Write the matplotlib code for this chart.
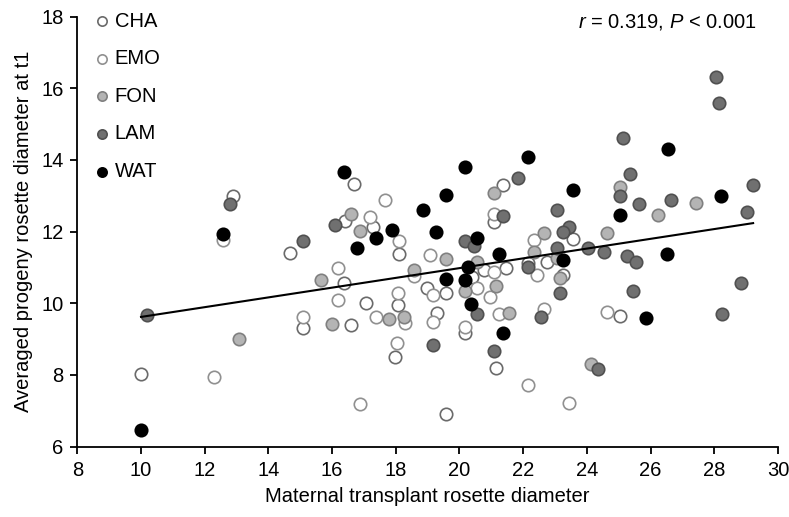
import numpy as np
import matplotlib
matplotlib.use("Agg")
import matplotlib.pyplot as plt

plt.rcParams['font.family'] = ['Liberation Sans', 'DejaVu Sans']
plt.rcParams['mathtext.fontset'] = 'custom'
plt.rcParams['mathtext.it'] = 'Liberation Sans:italic'
plt.rcParams['mathtext.rm'] = 'Liberation Sans'
FS = 14.5

# ---- data ----
wat_x = [10.0, 12.58, 16.38, 17.37, 17.87, 16.77, 20.17, 19.58, 18.86, 19.27, 20.56, 21.25, 20.26,
         19.58, 20.17, 22.16, 20.35, 21.38, 23.55, 28.2, 25.04, 23.26, 26.52, 25.85, 26.54]
wat_y = [6.47, 11.93, 13.66, 11.81, 12.05, 11.55, 13.81, 13.02, 12.6, 12.0, 11.81, 11.37, 11.0,
         10.67, 10.65, 14.09, 9.98, 9.16, 13.16, 13.0, 12.46, 11.21, 11.37, 9.58, 14.31]

lam_x = [12.79, 15.1, 10.2, 16.08, 21.85, 21.38, 20.17, 20.47, 22.16, 23.05, 23.05, 19.16, 20.56,
         21.08, 22.55, 23.16, 25.04, 25.65, 26.64, 23.45, 23.24, 24.04, 24.54, 25.25, 25.54, 25.44,
         28.04, 28.14, 25.14, 25.34, 29.22, 29.02, 28.83, 28.23, 24.36]
lam_y = [12.77, 11.74, 9.68, 12.18, 13.49, 12.44, 11.74, 11.6, 11.02, 12.61, 11.54, 8.84, 9.7,
         8.68, 9.61, 10.28, 13.0, 12.77, 12.89, 12.14, 12.0, 11.55, 11.43, 11.32, 11.14, 10.34,
         16.31, 15.6, 14.62, 13.62, 13.29, 12.56, 10.56, 9.7, 8.18]

fon_x = [15.65, 13.09, 16.58, 16.88, 17.78, 16.0, 21.08, 19.58, 20.56, 18.57, 20.17, 21.14, 22.65,
         22.34, 23.05, 18.26, 21.56, 25.04, 27.42, 26.24, 24.64, 23.16, 24.13]
fon_y = [10.65, 9.0, 12.49, 12.02, 9.56, 9.42, 13.08, 11.23, 11.16, 10.93, 10.33, 10.48, 11.96,
         11.44, 11.26, 9.61, 9.74, 13.24, 12.81, 12.47, 11.97, 10.7, 8.31]

cha_x = [12.89, 14.68, 15.1, 10.0, 16.68, 16.4, 17.27, 16.38, 18.1, 17.06, 18.06, 16.58, 17.97,
         21.38, 21.08, 20.77, 21.45, 20.38, 18.99, 19.58, 22.16, 22.74, 23.25, 19.28, 20.17, 21.14,
         19.58, 23.55, 25.04]
cha_y = [12.99, 11.41, 9.30, 8.02, 13.32, 12.29, 12.13, 10.56, 11.37, 10.02, 9.95, 9.39, 8.51,
         13.3, 12.27, 10.92, 10.98, 10.74, 10.42, 10.28, 11.12, 11.14, 10.78, 9.72, 9.16, 8.2,
         6.9, 11.8, 9.65]

emo_x = [12.58, 15.1, 12.29, 17.67, 17.19, 16.18, 18.1, 16.18, 18.06, 17.37, 18.03, 16.88, 21.08,
         19.07, 21.08, 18.57, 20.56, 19.18, 20.95, 22.43, 22.34, 18.29, 19.16, 20.17, 21.25, 22.16,
         22.65, 24.64, 23.45]
emo_y = [11.77, 9.63, 7.95, 12.88, 12.41, 10.98, 11.74, 10.09, 10.28, 9.61, 8.9, 7.19, 12.49,
         11.35, 10.86, 10.76, 10.44, 10.23, 10.17, 10.79, 11.77, 9.46, 9.49, 9.33, 9.7, 7.72,
         9.83, 9.77, 7.21]

groups = ["CHA", "EMO", "FON", "LAM", "WAT"]
xs = [cha_x, emo_x, fon_x, lam_x, wat_x]
ys = [cha_y, emo_y, fon_y, lam_y, wat_y]
faces = ["white", "white", "#b4b4b4", "#707070", "black"]
edges = ["#6a6a6a", "#909090", "#808080", "#505050", "black"]

stat_text = r"$r$ = 0.319, $P$ < 0.001"

fig = plt.figure(figsize=(7.89, 5.17), dpi=100)
ax = fig.add_axes([0.098, 0.136, 0.888, 0.832])

for g, x, y, fc, ec in zip(groups, xs, ys, faces, edges):
    ax.scatter(x, y, s=80, facecolor=fc, edgecolor=ec, linewidth=1.2, label=g, zorder=3)

allx = np.concatenate([np.array(v) for v in xs])
ally = np.concatenate([np.array(v) for v in ys])
b, a = np.polyfit(allx, ally, 1)
lx = np.array([allx.min(), allx.max()])
ax.plot(lx, a + b * lx, color="black", lw=1.5, zorder=4)

ax.set_xlim(8, 30)
ax.set_ylim(6, 18)
ax.set_xticks(np.arange(8, 31, 2))
ax.set_yticks(np.arange(6, 19, 2))
for s in ["top", "right"]:
    ax.spines[s].set_visible(False)
for s in ["left", "bottom"]:
    ax.spines[s].set_linewidth(1.3)
ax.tick_params(direction="out", length=5, width=1.3, labelsize=FS, pad=5)
ax.set_xlabel("Maternal transplant rosette diameter", fontsize=FS, labelpad=5)
ax.set_ylabel("Averaged progeny rosette diameter at t1", fontsize=FS, labelpad=6)

leg = ax.legend(loc="upper left", frameon=False, fontsize=FS, handletextpad=0.1,
                labelspacing=0.92, borderaxespad=0.0, bbox_to_anchor=(0.01, 1.03),
                handlelength=1.0, markerscale=0.75)

ax.text(0.97, 1.01, stat_text, transform=ax.transAxes, ha="right", va="top", fontsize=FS)

fig.savefig("out.png", dpi=100)
